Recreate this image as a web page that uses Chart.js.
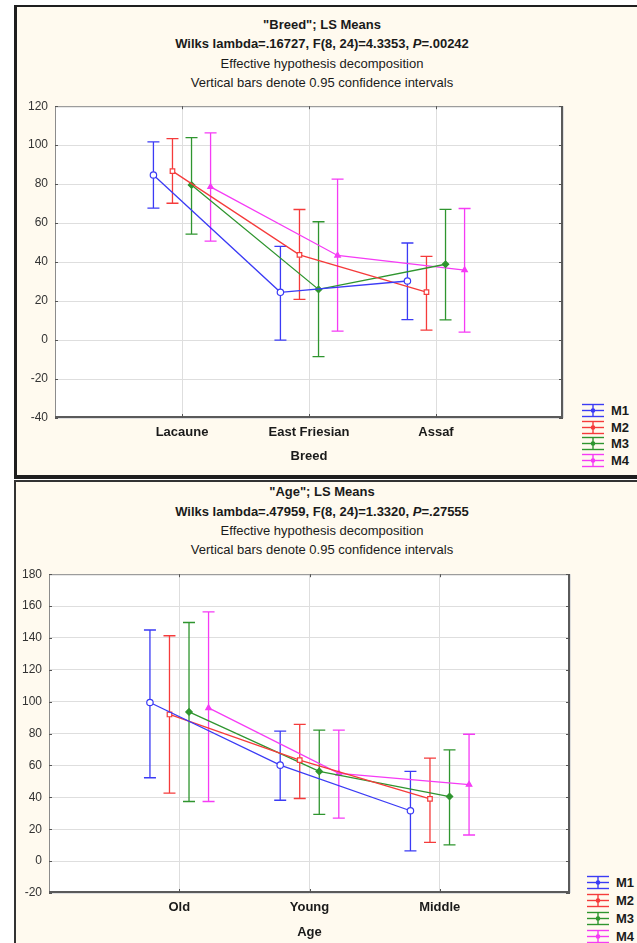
<!DOCTYPE html>
<html>
<head>
  <meta charset="UTF-8">
  <title>LS Means - Breed / Age</title>
  <script src="https://cdn.jsdelivr.net/npm/chart.js"></script>
  <style>
    body {
      margin: 0;
      width: 637px;
      height: 943px;
      overflow: hidden;
      position: relative;
      background: #ffffff;
      font-family: 'Liberation Sans Narrow', 'Liberation Sans', Arial, sans-serif;
      color: #1a1a1a;
    }

    .panel {
      position: absolute;
      left: 14px;
      width: 640px;
      background: #fffaef;
      box-sizing: border-box;
    }

    #p1 {
      top: 5px;
      height: 474px;
      border-left: 3px solid #1e1e1e;
      border-top: 2px solid #1e1e1e;
      border-bottom: 4px solid #1e1e1e;
    }

    #p2 {
      top: 480px;
      height: 470px;
      border-left: 2px solid #333;
      border-top: 2px solid #333;
    }

    .t {
      position: absolute;
      left: 22px;
      width: 600px;
      text-align: center;
      font-size: 13px;
      line-height: 16px;
      white-space: nowrap;
    }

    .b { font-weight: bold; }

    canvas { position: absolute; }

    .legend {
      position: absolute;
      font-weight: bold;
      font-size: 13px;
    }

    .legend .row {
      display: flex;
      align-items: center;
    }

    .legend svg { margin-right: 7px; }
  </style>
</head>
<body>
  <div class="panel" id="p1"></div>
  <div class="panel" id="p2"></div>

  <div class="t b" style="top:17px">"Breed"; LS Means</div>
  <div class="t b" style="top:36px">Wilks lambda=.16727, F(8, 24)=4.3353, <i>P</i>=.00242</div>
  <div class="t" style="top:56px">Effective hypothesis decomposition</div>
  <div class="t" style="top:75px">Vertical bars denote 0.95 confidence intervals</div>
  <canvas id="breedChart" width="555" height="381" style="left:15px; top:92px"></canvas>
  <div class="legend" id="breedLegend" style="left:582px; top:402px"></div>

  <div class="t b" style="top:484px">"Age"; LS Means</div>
  <div class="t b" style="top:504px">Wilks lambda=.47959, F(8, 24)=1.3320, <i>P</i>=.27555</div>
  <div class="t" style="top:523px">Effective hypothesis decomposition</div>
  <div class="t" style="top:542px">Vertical bars denote 0.95 confidence intervals</div>
  <canvas id="ageChart" width="562" height="383" style="left:15px; top:560px"></canvas>
  <div class="legend" id="ageLegend" style="left:587px; top:873px"></div>

  <script>
    // series + categories
    const seriesNames = ['M1', 'M2', 'M3', 'M4'];

    const breedCats = ['Lacaune', 'East Friesian', 'Assaf'];
    const breedYRange = [-40, 120];
    // rows = M1..M4, columns = breeds
    const breedMeans = [
      [84.7, 24.5, 30.3],
      [86.7, 43.7, 24.6],
      [79.6, 26.0, 38.9],
      [78.6, 43.4, 35.9]
    ];
    const breedLower = [
      [67.7, 0.0, 10.5],
      [70.2, 20.9, 5.1],
      [54.4, -8.5, 10.4],
      [50.8, 4.6, 4.1]
    ];
    const breedUpper = [
      [101.7, 48.1, 49.8],
      [103.4, 67.0, 42.9],
      [103.9, 60.7, 67.1],
      [106.3, 82.6, 67.5]
    ];

    const ageCats = ['Old', 'Young', 'Middle'];
    const ageYRange = [-20, 180];
    const ageMeans = [
      [99.5, 60.2, 31.6],
      [92.0, 63.4, 39.0],
      [93.6, 56.3, 40.5],
      [96.1, 55.0, 48.0]
    ];
    const ageLower = [
      [52.3, 38.2, 6.4],
      [42.6, 39.3, 11.8],
      [37.4, 29.3, 10.2],
      [37.4, 27.0, 16.4]
    ];
    const ageUpper = [
      [145.0, 81.6, 56.3],
      [141.4, 85.8, 64.6],
      [149.7, 82.2, 69.8],
      [156.4, 82.2, 79.6]
    ];

    // look
    const colors = ['#3b3bf5', '#f53b3b', '#2f952f', '#f53bf5'];
    const fills = ['#ffffff', '#ffffff', '#2f952f', '#f53bf5'];
    const marks = ['circle', 'rect', 'rectRot', 'triangle'];
    const dodge = [-0.225, -0.075, 0.075, 0.225]; // horizontal shift of each series
    const fontFam = "'Liberation Sans Narrow', 'Liberation Sans', Arial, sans-serif";

    // white plot area, grey frame, small inner ticks
    const framePlugin = {
      id: 'frame',
      beforeDraw(chart) {
        const { ctx, chartArea: a } = chart;
        ctx.save();
        ctx.fillStyle = '#ffffff';
        ctx.fillRect(a.left, a.top, a.right - a.left, a.bottom - a.top);
        ctx.restore();
      },
      afterDraw(chart) {
        const { ctx, chartArea: a, scales } = chart;
        ctx.save();
        ctx.strokeStyle = '#8c8c8c';
        ctx.lineWidth = 1;
        ctx.strokeRect(a.left + 0.5, a.top + 0.5, a.right - a.left - 1, a.bottom - a.top - 1);
        ctx.strokeStyle = '#5a5a5a';
        ctx.lineWidth = 2;
        ctx.beginPath();
        ctx.moveTo(a.left, a.bottom - 1);
        ctx.lineTo(a.right - 1, a.bottom - 1);
        ctx.lineTo(a.right - 1, a.top);
        ctx.stroke();

        ctx.strokeStyle = '#555';
        ctx.lineWidth = 1;
        ctx.beginPath();
        scales.y.ticks.forEach(t => {
          const y = Math.round(scales.y.getPixelForValue(t.value)) + 0.5;
          ctx.moveTo(a.left, y); ctx.lineTo(a.left + 3, y);
          ctx.moveTo(a.right, y); ctx.lineTo(a.right - 4, y);
        });
        [1, 2, 3].forEach(v => {
          const x = Math.round(scales.x.getPixelForValue(v)) + 0.5;
          ctx.moveTo(x, a.top); ctx.lineTo(x, a.top + 3);
          ctx.moveTo(x, a.bottom); ctx.lineTo(x, a.bottom - 4);
        });
        ctx.stroke();
        ctx.restore();
      }
    };

    // vertical confidence bars
    const ciPlugin = {
      id: 'ciBars',
      beforeDatasetsDraw(chart, args, opts) {
        const { ctx, scales } = chart;
        ctx.save();
        ctx.lineWidth = 1.3;
        chart.data.datasets.forEach((ds, i) => {
          ctx.strokeStyle = colors[i];
          ds.data.forEach((p, j) => {
            const x = scales.x.getPixelForValue(p.x);
            const y1 = scales.y.getPixelForValue(opts.lower[i][j]);
            const y2 = scales.y.getPixelForValue(opts.upper[i][j]);
            ctx.beginPath();
            ctx.moveTo(x, y1); ctx.lineTo(x, y2);
            ctx.moveTo(x - 6, y1); ctx.lineTo(x + 6, y1);
            ctx.moveTo(x - 6, y2); ctx.lineTo(x + 6, y2);
            ctx.stroke();
          });
        });
        ctx.restore();
      }
    };

    function makeChart(id, cats, means, lower, upper, yRange, axisTitle, yAxisW, xAxisH, titlePad) {
      const datasets = seriesNames.map((name, i) => ({
        label: name,
        data: cats.map((c, j) => ({ x: j + 1 + dodge[i], y: means[i][j] })),
        borderColor: colors[i],
        backgroundColor: fills[i],
        borderWidth: 1.3,
        pointStyle: marks[i],
        pointRadius: 3.2,
        pointBorderWidth: 1.2,
        tension: 0
      }));

      return new Chart(document.getElementById(id), {
        type: 'line',
        data: { datasets },
        options: {
          responsive: false,
          animation: false,
          layout: { padding: { top: 13, right: 0, bottom: 0, left: 0 } },
          plugins: {
            legend: { display: false },
            tooltip: { enabled: false },
            ciBars: { lower, upper }
          },
          scales: {
            x: {
              type: 'linear',
              min: 0,
              max: 4,
              afterFit: s => { s.height = xAxisH; },
              grid: { color: '#dedede', drawTicks: false },
              border: { display: false },
              ticks: {
                stepSize: 1,
                padding: 7,
                autoSkip: false,
                maxRotation: 0,
                color: '#1a1a1a',
                font: { family: fontFam, size: 13, weight: 'bold' },
                callback: v => cats[v - 1] || ''
              },
              title: {
                display: true,
                text: axisTitle,
                color: '#1a1a1a',
                font: { family: fontFam, size: 13, weight: 'bold' },
                padding: { top: 0, bottom: titlePad }
              }
            },
            y: {
              min: yRange[0],
              max: yRange[1],
              afterFit: s => { s.width = yAxisW; },
              grid: { color: '#dedede', drawTicks: false },
              border: { display: false },
              ticks: {
                stepSize: 20,
                padding: 7,
                color: '#333333',
                font: { family: fontFam, size: 12 }
              }
            }
          }
        },
        plugins: [framePlugin, ciPlugin]
      });
    }

    function makeLegend(id, rowH) {
      const box = document.getElementById(id);
      seriesNames.forEach((name, i) => {
        const c = colors[i];
        const row = document.createElement('div');
        row.className = 'row';
        row.style.height = rowH + 'px';
        row.innerHTML =
          `<svg width="22" height="15" viewBox="0 0 22 15">
             <g stroke="${c}" stroke-width="1.4" fill="none">
               <line x1="0" y1="1.5" x2="22" y2="1.5"/>
               <line x1="0" y1="7.5" x2="22" y2="7.5"/>
               <line x1="0" y1="13.5" x2="22" y2="13.5"/>
               <line x1="11" y1="1.5" x2="11" y2="13.5"/>
             </g>
             <circle cx="11" cy="7.5" r="2.3" fill="${c}"/>
           </svg><span>${name}</span>`;
        box.appendChild(row);
      });
    }

    makeChart('breedChart', breedCats, breedMeans, breedLower, breedUpper, breedYRange, 'Breed', 40, 55, 9);
    makeChart('ageChart', ageCats, ageMeans, ageLower, ageUpper, ageYRange, 'Age', 34, 50, 3);
    makeLegend('breedLegend', 16.7);
    makeLegend('ageLegend', 18);
  </script>
</body>
</html>
